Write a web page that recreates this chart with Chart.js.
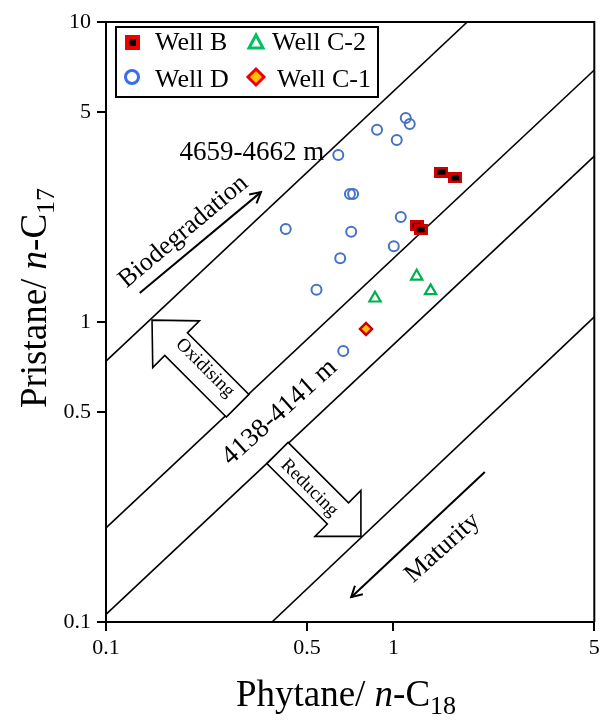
<!DOCTYPE html>
<html><head><meta charset="utf-8">
<script src="https://cdn.jsdelivr.net/npm/chart.js@4/dist/chart.umd.min.js"></script>
<style>html,body{margin:0;padding:0;background:#fff}</style>
</head><body>
<canvas id="c" width="603" height="722" style="display:block;width:603px;height:722px"></canvas>
<script>
// ---- data ----
const xTicks = [0.1, 0.5, 1, 5];
const yTicks = [0.1, 0.5, 1, 5, 10];
const wellB_x = [1.469, 1.642, 1.205, 1.244];
const wellB_y = [3.16, 3.02, 2.10, 2.03];
const wellC2_x = [1.205, 1.347, 0.863];
const wellC2_y = [1.42, 1.27, 1.20];
const wellD_x = [0.643, 0.877, 1.104, 1.140, 1.027, 0.706, 0.724, 0.422, 0.713, 1.061, 1.003, 0.653, 0.540, 0.669];
const wellD_y = [3.60, 4.37, 4.79, 4.57, 4.04, 2.67, 2.67, 2.04, 2.00, 2.24, 1.79, 1.63, 1.28, 0.80];
const wellC1_x = [0.803];
const wellC1_y = [0.948];
// diagonal reference lines (start / end points)
const lineX1 = [0.1, 0.1, 0.1, 0.378];
const lineY1 = [0.741, 0.206, 0.106, 0.1];
const lineX2 = [1.807, 5, 5, 5];
const lineY2 = [10, 6.92, 3.57, 1.04];

const SERIF = '"Liberation Serif", "Times New Roman", serif';
const pts = (xs, ys) => xs.map((x, i) => ({x, y: ys[i]}));

function makeRectMarker(w, h, b) {
  const cv = document.createElement('canvas');
  cv.width = w; cv.height = h;
  const g = cv.getContext('2d');
  g.fillStyle = '#cc0000'; g.fillRect(0, 0, w, h);
  g.fillStyle = '#000000'; g.fillRect(b, b, w - 2 * b, h - 2 * b);
  return cv;
}
const bMarker = makeRectMarker(14, 11, 3);

const datasets = [];
for (let i = 0; i < lineX1.length; i++) {
  datasets.push({label: 'line' + i, data: [{x: lineX1[i], y: lineY1[i]}, {x: lineX2[i], y: lineY2[i]}],
    showLine: true, borderColor: '#000', borderWidth: 1.6, pointRadius: 0, pointHoverRadius: 0, order: 10});
}
datasets.push({label: 'Well D', data: pts(wellD_x, wellD_y), pointStyle: 'circle', pointRadius: 5,
  borderColor: '#4472c4', backgroundColor: 'rgba(0,0,0,0)', borderWidth: 2, order: 4});
datasets.push({label: 'Well C-2', data: pts(wellC2_x, wellC2_y), pointStyle: 'triangle', pointRadius: 6.5,
  borderColor: '#00b050', backgroundColor: 'rgba(0,0,0,0)', borderWidth: 2.2, order: 3});
datasets.push({label: 'Well C-1', data: pts(wellC1_x, wellC1_y), pointStyle: 'rectRot', pointRadius: 6,
  borderColor: '#cc0000', backgroundColor: '#ffc000', borderWidth: 2.5, order: 2});
datasets.push({label: 'Well B', data: pts(wellB_x, wellB_y), pointStyle: bMarker, pointRadius: 6, order: 1});

function richText(ctx, parts, x, y, align) {
  let total = 0;
  parts.forEach(p => { ctx.font = p.font; total += ctx.measureText(p.t).width; });
  let cx = align === 'center' ? x - total / 2 : x;
  parts.forEach(p => {
    ctx.font = p.font;
    ctx.fillText(p.t, cx, y + (p.dy || 0));
    cx += ctx.measureText(p.t).width;
  });
}

function blockArrow(ctx, bx, by, ang, len, headLen, headHalf, shaftHalf) {
  const ux = Math.cos(ang), uy = Math.sin(ang), px = -uy, py = ux;
  const P = (a, b) => [bx + ux * a + px * b, by + uy * a + py * b];
  const poly = [P(0, -shaftHalf), P(len - headLen, -shaftHalf), P(len - headLen, -headHalf), P(len, 0),
    P(len - headLen, headHalf), P(len - headLen, shaftHalf), P(0, shaftHalf)];
  ctx.beginPath();
  poly.forEach((p, i) => i ? ctx.lineTo(p[0], p[1]) : ctx.moveTo(p[0], p[1]));
  ctx.closePath();
  ctx.fillStyle = '#fff'; ctx.fill();
  ctx.strokeStyle = '#000'; ctx.lineWidth = 1.6; ctx.stroke();
}

function lineArrow(ctx, x1, y1, x2, y2) {
  ctx.strokeStyle = '#000'; ctx.lineWidth = 2;
  ctx.beginPath(); ctx.moveTo(x1, y1); ctx.lineTo(x2, y2); ctx.stroke();
  const a = Math.atan2(y2 - y1, x2 - x1), L = 12, s = 0.5;
  ctx.beginPath();
  ctx.moveTo(x2 - L * Math.cos(a - s), y2 - L * Math.sin(a - s));
  ctx.lineTo(x2, y2);
  ctx.lineTo(x2 - L * Math.cos(a + s), y2 - L * Math.sin(a + s));
  ctx.stroke();
}

function rotText(ctx, t, x, y, ang, size) {
  ctx.save(); ctx.translate(x, y); ctx.rotate(ang * Math.PI / 180);
  ctx.font = size + 'px ' + SERIF; ctx.fillStyle = '#000';
  ctx.textAlign = 'center'; ctx.textBaseline = 'middle';
  ctx.fillText(t, 0, 0); ctx.restore();
}

const deco = {
  id: 'deco',
  afterDatasetsDraw(chart) {
    const ctx = chart.ctx, xs = chart.scales.x, ys = chart.scales.y;
    const X = v => xs.getPixelForValue(v), Y = v => ys.getPixelForValue(v);
    const ca = chart.chartArea;
    ctx.save();
    // frame top/right
    ctx.strokeStyle = '#000'; ctx.lineWidth = 2;
    ctx.beginPath(); ctx.moveTo(ca.left, ca.top); ctx.lineTo(ca.right, ca.top); ctx.lineTo(ca.right, ca.bottom); ctx.stroke();

    // block arrows
    blockArrow(ctx, X(0.287), Y(0.526), -3 * Math.PI / 4, 121, 34, 33, 16);
    blockArrow(ctx, X(0.395), Y(0.366), Math.PI / 4, 118, 32.5, 32.5, 15);
    rotText(ctx, 'Oxidising', X(0.221), Y(0.703), 45, 19);
    rotText(ctx, 'Reducing', X(0.510), Y(0.280), 45, 19);

    // line arrows
    lineArrow(ctx, X(0.131), Y(1.25), X(0.346), Y(2.71));
    lineArrow(ctx, X(2.08), Y(0.316), X(0.713), Y(0.121));

    rotText(ctx, 'Biodegradation', X(0.186), Y(2.0), -40, 26);
    rotText(ctx, '4138-4141 m', X(0.402), Y(0.5), -42, 27);
    rotText(ctx, 'Maturity', X(1.481), Y(0.1766), -42, 26);
    ctx.font = '27px ' + SERIF; ctx.fillStyle = '#000'; ctx.textAlign = 'center'; ctx.textBaseline = 'middle';
    ctx.fillText('4659-4662 m', X(0.322), Y(3.66));

    // legend
    ctx.fillStyle = '#fff'; ctx.fillRect(116, 27, 262, 70);
    ctx.strokeStyle = '#000'; ctx.lineWidth = 2; ctx.strokeRect(116, 27, 262, 70);
    // Well B marker
    ctx.fillStyle = '#ee0000'; ctx.fillRect(125, 35, 15, 15);
    ctx.fillStyle = '#000'; ctx.fillRect(129, 39, 7, 7);
    // Well C-2 triangle
    ctx.strokeStyle = '#00c060'; ctx.lineWidth = 3;
    ctx.beginPath(); ctx.moveTo(256, 35); ctx.lineTo(263, 48); ctx.lineTo(249, 48); ctx.closePath(); ctx.stroke();
    // Well D circle
    ctx.strokeStyle = '#3a6cf0'; ctx.lineWidth = 3;
    ctx.beginPath(); ctx.arc(132, 77, 6.5, 0, 2 * Math.PI); ctx.stroke();
    // Well C-1 diamond
    ctx.beginPath(); ctx.moveTo(256, 69); ctx.lineTo(264, 77); ctx.lineTo(256, 85); ctx.lineTo(248, 77); ctx.closePath();
    ctx.fillStyle = '#ffc000'; ctx.fill(); ctx.strokeStyle = '#ee0000'; ctx.lineWidth = 3; ctx.stroke();
    ctx.fillStyle = '#000'; ctx.font = '26px ' + SERIF; ctx.textAlign = 'left'; ctx.textBaseline = 'alphabetic';
    ctx.fillText('Well B', 155, 50);
    ctx.fillText('Well C-2', 272, 50);
    ctx.fillText('Well D', 155, 87);
    ctx.fillText('Well C-1', 277, 87);

    // axis titles
    ctx.fillStyle = '#000'; ctx.textBaseline = 'alphabetic';
    const big = '37px ' + SERIF, ital = 'italic 37px ' + SERIF, sub = '26px ' + SERIF;
    richText(ctx, [{t: 'Phytane/ ', font: big}, {t: 'n', font: ital}, {t: '-C', font: big}, {t: '18', font: sub, dy: 8}], 346, 706, 'center');
    ctx.save(); ctx.translate(46, 298); ctx.rotate(-Math.PI / 2);
    richText(ctx, [{t: 'Pristane/ ', font: big}, {t: 'n', font: ital}, {t: '-C', font: big}, {t: '17', font: sub, dy: 8}], 0, 0, 'center');
    ctx.restore();
    ctx.restore();
  }
};

new Chart(document.getElementById('c'), {
  type: 'scatter',
  data: {datasets},
  options: {
    responsive: false, animation: false, devicePixelRatio: 1,
    layout: {padding: {top: 22, right: 5, left: 0, bottom: 0}},
    plugins: {legend: {display: false}, tooltip: {enabled: false}},
    scales: {
      x: {type: 'logarithmic', min: 0.1, max: 5,
        afterBuildTicks: s => { s.ticks = xTicks.map(v => ({value: v})); },
        ticks: {callback: v => String(v), font: {family: SERIF, size: 22}, color: '#000', padding: 4, maxRotation: 0, autoSkip: false},
        grid: {drawOnChartArea: false, tickLength: 9, color: '#000', lineWidth: 2},
        border: {color: '#000', width: 2},
        afterFit: s => { s.height = 100; s.paddingLeft = 0; s.paddingRight = 0; }
      },
      y: {type: 'logarithmic', min: 0.1, max: 10,
        afterBuildTicks: s => { s.ticks = yTicks.map(v => ({value: v})); },
        ticks: {callback: v => String(v), font: {family: SERIF, size: 22}, color: '#000', padding: 6, autoSkip: false},
        grid: {drawOnChartArea: false, tickLength: 9, color: '#000', lineWidth: 2},
        border: {color: '#000', width: 2},
        afterFit: s => { s.width = 106; s.paddingTop = 0; s.paddingBottom = 0; }
      }
    }
  },
  plugins: [deco]
});
</script>
</body></html>
